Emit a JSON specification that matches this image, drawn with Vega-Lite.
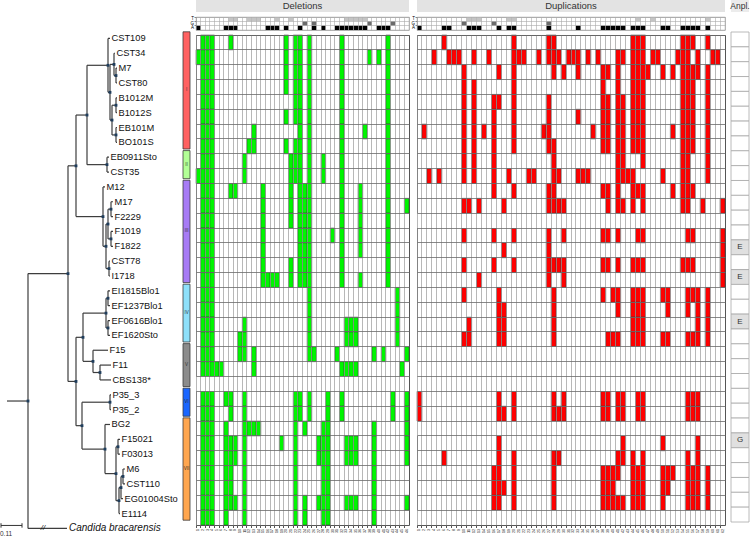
{
"$schema":"https://vega.github.io/schema/vega-lite/v6.json",
"padding":0,
"background":"white",
"config":{"view":{"stroke":null},"font":"Liberation Sans","axis":{"title":null}},
"datasets":{
"seg":[
{"x":108,"x2":110,"y":1,"y2":1},{"x":114,"x2":115,"y":2,"y2":2},{"x":116,"x2":117,"y":3,"y2":3},{"x":116,"x2":117,"y":4,"y2":4},{"x":116,"x2":117,"y":5,"y2":5},{"x":116,"x2":117,"y":6,"y2":6},{"x":116,"x2":117,"y":7,"y2":7},{"x":116,"x2":117,"y":8,"y2":8},{"x":107,"x2":109,"y":9,"y2":9},{"x":107,"x2":109,"y":10,"y2":10},{"x":103,"x2":105,"y":11,"y2":11},{"x":111,"x2":113,"y":12,"y2":12},{"x":111,"x2":113,"y":13,"y2":13},{"x":111,"x2":113,"y":14,"y2":14},{"x":111,"x2":113,"y":15,"y2":15},{"x":109,"x2":110,"y":16,"y2":16},{"x":109,"x2":110,"y":17,"y2":17},{"x":108,"x2":110,"y":18,"y2":18},{"x":108,"x2":110,"y":19,"y2":19},{"x":108,"x2":110,"y":20,"y2":20},{"x":108,"x2":110,"y":21,"y2":21},{"x":93,"x2":108,"y":22,"y2":22},{"x":100,"x2":111,"y":23,"y2":23},{"x":100,"x2":111,"y":24,"y2":24},{"x":110,"x2":111,"y":25,"y2":25},{"x":110,"x2":111,"y":26,"y2":26},{"x":105,"x2":110,"y":27,"y2":27},{"x":118,"x2":120,"y":28,"y2":28},{"x":118,"x2":120,"y":29,"y2":29},{"x":123,"x2":125,"y":30,"y2":30},{"x":123,"x2":125,"y":31,"y2":31},{"x":121,"x2":123,"y":32,"y2":32},{"x":119,"x2":120,"y":33,"y2":33},{"x":28,"x2":67,"y":34,"y2":34},
{"x":114,"x2":116,"y":3.5,"y2":3.5},{"x":110,"x2":114,"y":2.75,"y2":2.75},{"x":112,"x2":116,"y":5.5,"y2":5.5},{"x":112,"x2":116,"y":7.5,"y2":7.5},{"x":110,"x2":112,"y":6.5,"y2":6.5},{"x":108,"x2":110,"y":4.63,"y2":4.63},{"x":87,"x2":108,"y":2.81,"y2":2.81},{"x":87,"x2":107,"y":9.5,"y2":9.5},{"x":76,"x2":87,"y":6.16,"y2":6.16},{"x":108,"x2":111,"y":12.5,"y2":12.5},{"x":108,"x2":111,"y":14.5,"y2":14.5},{"x":106,"x2":108,"y":13.5,"y2":13.5},{"x":106,"x2":109,"y":16.5,"y2":16.5},{"x":103,"x2":106,"y":15,"y2":15},{"x":76,"x2":103,"y":13,"y2":13},{"x":68,"x2":76,"y":9.58,"y2":9.58},{"x":106,"x2":108,"y":18.5,"y2":18.5},{"x":106,"x2":108,"y":20.5,"y2":20.5},{"x":83,"x2":106,"y":19.5,"y2":19.5},{"x":93,"x2":100,"y":23.5,"y2":23.5},{"x":83,"x2":93,"y":22.75,"y2":22.75},{"x":76,"x2":83,"y":21.13,"y2":21.13},{"x":82,"x2":110,"y":25.5,"y2":25.5},{"x":116,"x2":118,"y":28.5,"y2":28.5},{"x":121,"x2":123,"y":30.5,"y2":30.5},{"x":119,"x2":121,"y":31.25,"y2":31.25},{"x":116,"x2":119,"y":32.13,"y2":32.13},{"x":105,"x2":116,"y":30.31,"y2":30.31},{"x":82,"x2":105,"y":28.66,"y2":28.66},{"x":76,"x2":82,"y":27.08,"y2":27.08},{"x":68,"x2":76,"y":24.1,"y2":24.1},{"x":28,"x2":68,"y":16.84,"y2":16.84},{"x":7,"x2":28,"y":25.42,"y2":25.42},
{"x":116,"x2":116,"y":3,"y2":4},{"x":114,"x2":114,"y":2,"y2":3.5},{"x":116,"x2":116,"y":5,"y2":6},{"x":116,"x2":116,"y":7,"y2":8},{"x":112,"x2":112,"y":5.5,"y2":7.5},{"x":110,"x2":110,"y":2.75,"y2":6.5},{"x":108,"x2":108,"y":1,"y2":4.63},{"x":107,"x2":107,"y":9,"y2":10},{"x":87,"x2":87,"y":2.81,"y2":9.5},{"x":111,"x2":111,"y":12,"y2":13},{"x":111,"x2":111,"y":14,"y2":15},{"x":108,"x2":108,"y":12.5,"y2":14.5},{"x":109,"x2":109,"y":16,"y2":17},{"x":106,"x2":106,"y":13.5,"y2":16.5},{"x":103,"x2":103,"y":11,"y2":15},{"x":76,"x2":76,"y":6.16,"y2":13},{"x":108,"x2":108,"y":18,"y2":19},{"x":108,"x2":108,"y":20,"y2":21},{"x":106,"x2":106,"y":18.5,"y2":20.5},{"x":100,"x2":100,"y":23,"y2":24},{"x":93,"x2":93,"y":22,"y2":23.5},{"x":83,"x2":83,"y":19.5,"y2":22.75},{"x":110,"x2":110,"y":25,"y2":26},{"x":118,"x2":118,"y":28,"y2":29},{"x":123,"x2":123,"y":30,"y2":31},{"x":121,"x2":121,"y":30.5,"y2":32},{"x":119,"x2":119,"y":31.25,"y2":33},{"x":116,"x2":116,"y":28.5,"y2":32.13},{"x":105,"x2":105,"y":27,"y2":30.31},{"x":82,"x2":82,"y":25.5,"y2":28.66},{"x":76,"x2":76,"y":21.13,"y2":27.08},{"x":68,"x2":68,"y":9.58,"y2":24.1},{"x":28,"x2":28,"y":16.84,"y2":34}
],
"node":[{"x":116,"y":3.5},{"x":114,"y":2.75},{"x":116,"y":5.5},{"x":116,"y":7.5},{"x":112,"y":6.5},{"x":110,"y":4.63},{"x":108,"y":2.81},{"x":107,"y":9.5},{"x":87,"y":6.16},{"x":111,"y":12.5},{"x":111,"y":14.5},{"x":108,"y":13.5},{"x":109,"y":16.5},{"x":106,"y":15},{"x":103,"y":13},{"x":76,"y":9.58},{"x":108,"y":18.5},{"x":108,"y":20.5},{"x":106,"y":19.5},{"x":100,"y":23.5},{"x":93,"y":22.75},{"x":83,"y":21.13},{"x":110,"y":25.5},{"x":118,"y":28.5},{"x":123,"y":30.5},{"x":121,"y":31.25},{"x":119,"y":32.13},{"x":116,"y":30.31},{"x":105,"y":28.66},{"x":82,"y":27.08},{"x":76,"y":24.1},{"x":68,"y":16.84},{"x":28,"y":25.42}],
"leaf":[{"n":"CST109","x":110,"y":1},{"n":"CST34","x":115,"y":2},{"n":"M7","x":117,"y":3},{"n":"CST80","x":117,"y":4},{"n":"B1012M","x":117,"y":5},{"n":"B1012S","x":117,"y":6},{"n":"EB101M","x":117,"y":7},{"n":"BO101S","x":117,"y":8},{"n":"EB0911Sto","x":109,"y":9},{"n":"CST35","x":109,"y":10},{"n":"M12","x":105,"y":11},{"n":"M17","x":113,"y":12},{"n":"F2229","x":113,"y":13},{"n":"F1019","x":113,"y":14},{"n":"F1822","x":113,"y":15},{"n":"CST78","x":110,"y":16},{"n":"I1718","x":110,"y":17},{"n":"EI1815Blo1","x":110,"y":18},{"n":"EF1237Blo1","x":110,"y":19},{"n":"EF0616Blo1","x":110,"y":20},{"n":"EF1620Sto","x":110,"y":21},{"n":"F15","x":108,"y":22},{"n":"F11","x":111,"y":23},{"n":"CBS138*","x":111,"y":24},{"n":"P35_3","x":111,"y":25},{"n":"P35_2","x":111,"y":26},{"n":"BG2","x":110,"y":27},{"n":"F15021","x":120,"y":28},{"n":"F03013","x":120,"y":29},{"n":"M6","x":125,"y":30},{"n":"CST110","x":125,"y":31},{"n":"EG01004Sto","x":123,"y":32},{"n":"E1114","x":120,"y":33}],
"bar":[{"x":1,"x2":22,"y":33.8,"y2":33.8},{"x":1,"x2":1,"y":33.65,"y2":33.95},{"x":22,"x2":22,"y":33.65,"y2":33.95}],
"clade":[{"k":"I","top":0.5,"bot":8.5,"mid":4.5},{"k":"II","top":8.5,"bot":10.5,"mid":9.5},{"k":"III","top":10.5,"bot":17.5,"mid":14},{"k":"IV","top":17.5,"bot":21.5,"mid":19.5},{"k":"V","top":21.5,"bot":24.5,"mid":23},{"k":"VI","top":24.5,"bot":26.5,"mid":25.5},{"k":"VII","top":26.5,"bot":33.5,"mid":30}],
"delHead":[{"t":"T","c":[8,9,12,13,14,18,21,33,34,35,36,37]},{"t":"G","c":[24,26,38,43]},{"t":"A","c":[1,7,8,9,16,17,18,20,23,26,28,31,32,33,34,35,36,37,40,41,42]}],
"dupHead":[{"t":"T","c":[11,12,13,19,20,45,48,59]},{"t":"G","c":[10,16,27]},{"t":"A","c":[1,6,7,11,12,13,17,19,20,27,33,38,39,40,41,42,44,45,46,50,51,54,55,56,57,59]}],
"del":[
{"r":1,"c":[2,3,4,8,20,22,23,25,32,42]},
{"r":2,"c":[1,2,3,4,20,22,23,25,32,38,40,42]},
{"r":3,"c":[2,3,4,20,22,23,25,32,42]},
{"r":4,"c":[2,3,4,20,22,23,25,32,42]},
{"r":5,"c":[2,3,4,22,23,25,32,42]},
{"r":6,"c":[2,3,4,20,22,23,25,32,42]},
{"r":7,"c":[2,3,4,13,23,25,32,37,42]},
{"r":8,"c":[2,3,4,12,13,20,22,23,25,32,42]},
{"r":9,"c":[2,3,4,11,21,22,23,25,28,32,42]},
{"r":10,"c":[1,2,3,4,11,21,22,23,25,28,32,42]},
{"r":11,"c":[2,3,4,8,9,15,21,23,24,25,32,36,42]},
{"r":12,"c":[2,3,4,15,21,23,24,25,32,36,42,46]},
{"r":13,"c":[2,3,4,15,21,23,24,25,32,36,42]},
{"r":14,"c":[2,3,4,15,23,24,25,30,32,36,42]},
{"r":15,"c":[2,3,4,15,23,24,25,32,36,42]},
{"r":16,"c":[2,3,4,15,21,23,24,25,32,42]},
{"r":17,"c":[2,3,4,15,16,17,18,21,23,24,25,32,36,42]},
{"r":18,"c":[2,3,4,25,44]},
{"r":19,"c":[2,3,4,25,44]},
{"r":20,"c":[2,3,4,11,25,33,34,35,44]},
{"r":21,"c":[2,3,4,10,11,25,33,34,35,44]},
{"r":22,"c":[2,3,4,10,11,13,25,26,31,39,41,46]},
{"r":23,"c":[2,3,4,5,6,13,32,33,34,35,45]},
{"r":25,"c":[2,3,4,7,8,11,22,23,25,29,32,43,46]},
{"r":26,"c":[2,3,4,8,11,22,23,25,29,32,43,46]},
{"r":27,"c":[2,3,4,7,11,12,13,14,22,24,28,29,39,46]},
{"r":28,"c":[2,3,4,7,8,9,11,19,22,27,28,29,33,34,35,39,46]},
{"r":29,"c":[2,3,4,7,8,9,11,22,27,28,29,33,34,35,39,46]},
{"r":30,"c":[2,3,4,7,8,11,22,28,29,39]},
{"r":31,"c":[2,3,4,7,8,11,22,28,29,39]},
{"r":32,"c":[2,3,4,7,8,9,11,22,24,27,28,29,33,34,35,39,46]},
{"r":33,"c":[2,3,4,7,11,22,24,28,29,39]}
],
"dup":[
{"r":1,"c":[6,20,27,28,44,45,46,54,55,56,59]},
{"r":2,"c":[4,7,8,9,12,15,20,21,22,25,27,28,29,31,32,33,35,37,41,42,44,45,46,48,49,53,54,55,57,60,61]},
{"r":3,"c":[10,17,20,28,30,33,38,39,41,44,45,46,47,50,52,54,55,56,57,59]},
{"r":4,"c":[10,12,20,38,41,44,45,46,54,55,56,59]},
{"r":5,"c":[10,12,16,17,20,27,38,39,41,42,44,45,46,54,55,56,59]},
{"r":6,"c":[10,12,16,20,27,33,38,39,41,42,44,45,46,54,55,56,59]},
{"r":7,"c":[2,10,12,14,16,20,26,27,36,38,39,41,42,44,45,46,52,54,55,56,59]},
{"r":8,"c":[10,12,16,20,27,28,38,39,41,42,44,45,46,54,55,56,59]},
{"r":9,"c":[10,12,16,28,41,42,46,54,55,59]},
{"r":10,"c":[3,5,10,12,16,19,23,24,28,29,33,34,35,41,42,43,44,50,54,55,59]},
{"r":11,"c":[16,20,27,28,38,39,41,44,45,46,52,54,55,56]},
{"r":12,"c":[10,11,13,18,27,28,29,30,39,41,42,44,46,54,55,58,62]},
{"r":14,"c":[10,16,20,27,30,38,39,41,45,46,55,56,62]},
{"r":15,"c":[18,27,62]},
{"r":16,"c":[10,16,20,27,28,29,30,38,39,41,44,45,46,54,55,56,62]},
{"r":17,"c":[13,27,30,62]},
{"r":18,"c":[10,17,28,38,40,41,44,45,46,50,51,55,56,57,59]},
{"r":19,"c":[17,18,28,41,44,45,46,51,55,57,59]},
{"r":20,"c":[11,17,18,28,44,45,46,57,59]},
{"r":21,"c":[10,11,17,18,28,39,40,41,44,45,46,50,51,55,56,57,59]},
{"r":25,"c":[1,17,20,28,30,38,39,41,42,45,46,55,56,57]},
{"r":26,"c":[1,17,18,20,28,29,30,38,39,41,42,45,46,55,56,57]},
{"r":28,"c":[17,42,50,57]},
{"r":29,"c":[6,17,20,28,29,41,42,44,46,55,57]},
{"r":30,"c":[16,17,20,28,38,39,40,41,44,45,46,50,51,52,55,56,57,59]},
{"r":31,"c":[16,17,18,20,28,38,39,40,44,45,46,50,51,55,56,57,59]},
{"r":32,"c":[16,17,20,28,38,39,40,41,42,44,45,46,50,55,56,57,59]}
],
"ampl":[{"r":1},{"r":2},{"r":3},{"r":4},{"r":5},{"r":6},{"r":7},{"r":8},{"r":9},{"r":10},{"r":11},{"r":12},{"r":13},{"r":14},{"r":15,"a":"E"},{"r":16},{"r":17,"a":"E"},{"r":18},{"r":19},{"r":20,"a":"E"},{"r":21},{"r":22},{"r":23},{"r":24},{"r":25},{"r":26},{"r":27},{"r":28,"a":"G"},{"r":29},{"r":30},{"r":31},{"r":32},{"r":33}],
"amplTxt":[{"r":15,"a":"E"},{"r":17,"a":"E"},{"r":20,"a":"E"},{"r":28,"a":"G"}]
},
"resolve":{"scale":{"color":"independent"}},
"hconcat":[
{"resolve":{"scale":{"color":"independent"}},"hconcat":[
 {"width":177,"height":536,
  "encoding":{
   "x":{"field":"x","type":"quantitative","scale":{"domain":[0,177],"nice":false,"zero":false},"axis":null},
   "y":{"field":"y","type":"quantitative","scale":{"domain":[-1.588,34.511],"reverse":true,"nice":false,"zero":false},"axis":null}},
  "layer":[
   {"data":{"name":"seg"},"mark":{"type":"rule","color":"#3d3d3d","strokeWidth":1.2},"encoding":{"x2":{"field":"x2"},"y2":{"field":"y2"}}},
   {"data":{"name":"bar"},"mark":{"type":"rule","color":"#333333","strokeWidth":1},"encoding":{"x2":{"field":"x2"},"y2":{"field":"y2"}}},
   {"data":{"name":"node"},"mark":{"type":"square","size":8,"color":"#1f3d5c","opacity":1}},
   {"data":{"name":"leaf"},"mark":{"type":"text","align":"left","baseline":"middle","dx":1.5,"fontSize":9.3,"color":"#111111"},"encoding":{"text":{"field":"n"}}},
   {"data":{"values":[{"n":"Candida bracarensis","x":67,"y":34}]},"mark":{"type":"text","align":"left","baseline":"middle","dx":2,"fontSize":10,"fontStyle":"italic","color":"#111111"},"encoding":{"text":{"field":"n"}}},
   {"data":{"values":[{"n":"//","x":43,"y":34}]},"mark":{"type":"text","baseline":"middle","fontSize":8,"fontStyle":"italic","color":"#111111"},"encoding":{"text":{"field":"n"}}},
   {"data":{"values":[{"n":"0.11","x":0,"y":34.35}]},"mark":{"type":"text","align":"left","baseline":"middle","fontSize":6.5,"color":"#333333"},"encoding":{"text":{"field":"n"}}}
  ]},
 {"width":7,"height":536,"data":{"name":"clade"},
  "layer":[
   {"mark":{"type":"rect","stroke":"#3a3a3a","strokeWidth":0.8,"yOffset":0.8,"y2Offset":-0.8},
    "encoding":{"y":{"field":"top","type":"quantitative","scale":{"domain":[-1.588,34.511],"reverse":true,"nice":false,"zero":false},"axis":null},"y2":{"field":"bot"},
     "color":{"field":"k","type":"nominal","scale":{"domain":["I","II","III","IV","V","VI","VII"],"range":["#ff6161","#b2ff96","#a77bf5","#8ee0fa","#8c8c8c","#1a66ff","#ffa64f"]},"legend":null}}},
   {"mark":{"type":"text","fontSize":4.5,"color":"#333333","baseline":"middle"},
    "encoding":{"y":{"field":"mid","type":"quantitative","scale":{"domain":[-1.588,34.511],"reverse":true,"nice":false,"zero":false},"axis":null},"text":{"field":"k"}}}
  ]}
],"spacing":4},
{"resolve":{"scale":{"color":"independent"}},"hconcat":[
 {"resolve":{"scale":{"color":"independent"}},"vconcat":[
  {"width":213,"height":12,"data":{"values":[{"t":"Deletions"}]},
   "layer":[{"mark":{"type":"rect","color":"#e3e3e3"},"encoding":{}},{"mark":{"type":"text","fontSize":9.5,"color":"#333333","baseline":"middle"},"encoding":{"text":{"field":"t"}}}]},
  {"width":213,"height":13,"data":{"name":"delHead"},"transform":[{"flatten":["c"]}],"view":{"stroke":"#888888","strokeWidth":0.8},
   "mark":{"type":"rect"},
   "encoding":{
    "x":{"field":"c","type":"ordinal","scale":{"domain":[1,2,3,4,5,6,7,8,9,10,11,12,13,14,15,16,17,18,19,20,21,22,23,24,25,26,27,28,29,30,31,32,33,34,35,36,37,38,39,40,41,42,43,44,45,46]},"axis":{"labels":false,"ticks":false,"domain":false,"grid":true,"gridColor":"#aaaaaa","gridWidth":0.6,"bandPosition":0}},
    "y":{"field":"t","type":"ordinal","scale":{"domain":["T","G","A"]},"axis":{"labelFontSize":4.5,"tickSize":2,"labelPadding":0.5,"domain":false,"grid":true,"gridColor":"#aaaaaa","gridWidth":0.6,"bandPosition":0}},
    "color":{"field":"t","type":"nominal","scale":{"domain":["T","G","A"],"range":["#c4c4c4","#6b6b6b","#000000"]},"legend":null}}},
  {"width":213,"height":490,"view":{"stroke":"#555555","strokeWidth":1},
   "encoding":{"y":{"field":"r","type":"ordinal","scale":{"domain":[1,2,3,4,5,6,7,8,9,10,11,12,13,14,15,16,17,18,19,20,21,22,23,24,25,26,27,28,29,30,31,32,33]},"axis":{"labels":false,"ticks":false,"domain":false,"grid":true,"gridColor":"#6a6a6a","gridWidth":0.8,"bandPosition":0}}},
   "layer":[
    {"data":{"name":"del"},"transform":[{"flatten":["c"]}],"mark":{"type":"rect","color":"#00f500","stroke":"#3a3a3a","strokeWidth":0.5},
     "encoding":{"x":{"field":"c","type":"ordinal","scale":{"domain":[1,2,3,4,5,6,7,8,9,10,11,12,13,14,15,16,17,18,19,20,21,22,23,24,25,26,27,28,29,30,31,32,33,34,35,36,37,38,39,40,41,42,43,44,45,46]},"axis":{"orient":"bottom","labelFontSize":3.5,"labelAngle":-90,"labelPadding":1,"tickSize":2.5,"tickColor":"#555555","domain":false,"grid":true,"gridColor":"#999999","gridWidth":0.7,"bandPosition":0}}}},
    {"data":{"values":[{"r":24}]},"mark":{"type":"rect","color":"#ffffff"}}
   ]}
 ],"spacing":3},
 {"resolve":{"scale":{"color":"independent"}},"hconcat":[
  {"resolve":{"scale":{"color":"independent"}},"vconcat":[
   {"width":308,"height":12,"data":{"values":[{"t":"Duplications"}]},
    "layer":[{"mark":{"type":"rect","color":"#e3e3e3"},"encoding":{}},{"mark":{"type":"text","fontSize":9.5,"color":"#333333","baseline":"middle"},"encoding":{"text":{"field":"t"}}}]},
   {"width":308,"height":13,"data":{"name":"dupHead"},"transform":[{"flatten":["c"]}],"view":{"stroke":"#888888","strokeWidth":0.8},
    "mark":{"type":"rect"},
    "encoding":{
     "x":{"field":"c","type":"ordinal","scale":{"domain":[1,2,3,4,5,6,7,8,9,10,11,12,13,14,15,16,17,18,19,20,21,22,23,24,25,26,27,28,29,30,31,32,33,34,35,36,37,38,39,40,41,42,43,44,45,46,47,48,49,50,51,52,53,54,55,56,57,58,59,60,61,62]},"axis":{"labels":false,"ticks":false,"domain":false,"grid":true,"gridColor":"#aaaaaa","gridWidth":0.6,"bandPosition":0}},
     "y":{"field":"t","type":"ordinal","scale":{"domain":["T","G","A"]},"axis":{"labelFontSize":4.5,"tickSize":2,"labelPadding":0.5,"domain":false,"grid":true,"gridColor":"#aaaaaa","gridWidth":0.6,"bandPosition":0}},
     "color":{"field":"t","type":"nominal","scale":{"domain":["T","G","A"],"range":["#c4c4c4","#6b6b6b","#000000"]},"legend":null}}},
   {"width":308,"height":490,"view":{"stroke":"#555555","strokeWidth":1},
    "encoding":{"y":{"field":"r","type":"ordinal","scale":{"domain":[1,2,3,4,5,6,7,8,9,10,11,12,13,14,15,16,17,18,19,20,21,22,23,24,25,26,27,28,29,30,31,32,33]},"axis":{"labels":false,"ticks":false,"domain":false,"grid":true,"gridColor":"#6a6a6a","gridWidth":0.8,"bandPosition":0}}},
    "layer":[
     {"data":{"name":"dup"},"transform":[{"flatten":["c"]}],"mark":{"type":"rect","color":"#ff0000","stroke":"#3a3a3a","strokeWidth":0.5},
      "encoding":{"x":{"field":"c","type":"ordinal","scale":{"domain":[1,2,3,4,5,6,7,8,9,10,11,12,13,14,15,16,17,18,19,20,21,22,23,24,25,26,27,28,29,30,31,32,33,34,35,36,37,38,39,40,41,42,43,44,45,46,47,48,49,50,51,52,53,54,55,56,57,58,59,60,61,62]},"axis":{"orient":"bottom","labelFontSize":3.5,"labelAngle":-90,"labelPadding":1,"tickSize":2.5,"tickColor":"#555555","domain":false,"grid":true,"gridColor":"#999999","gridWidth":0.7,"bandPosition":0}}}},
     {"data":{"values":[{"r":13},{"r":22},{"r":23},{"r":24},{"r":27},{"r":33}]},"mark":{"type":"rect","color":"#ffffff"}}
    ]}
  ],"spacing":3},
  {"vconcat":[
   {"width":18,"height":12,"data":{"values":[{"t":"Anpl."}]},
    "layer":[{"mark":{"type":"rect","color":"#ececec"},"encoding":{}},{"mark":{"type":"text","fontSize":8.5,"color":"#333333","baseline":"middle"},"encoding":{"text":{"field":"t"}}}]},
   {"width":18,"height":13,"data":{"values":[{"t":" "}]},"mark":{"type":"text"},"encoding":{"text":{"field":"t"}}},
   {"width":18,"height":490,
    "encoding":{"y":{"field":"r","type":"ordinal","scale":{"domain":[1,2,3,4,5,6,7,8,9,10,11,12,13,14,15,16,17,18,19,20,21,22,23,24,25,26,27,28,29,30,31,32,33]},"axis":null}},
    "layer":[
     {"data":{"name":"ampl"},"mark":{"type":"rect","stroke":"#a8a8a8","strokeWidth":0.8},"encoding":{"color":{"condition":{"test":"datum.a","value":"#e0e0e0"},"value":"#ffffff"}}},
     {"data":{"name":"amplTxt"},"mark":{"type":"text","fontSize":8,"color":"#333333","baseline":"middle"},"encoding":{"text":{"field":"a"}}}
    ]}
  ],"spacing":3}
 ],"spacing":4}
],"spacing":0}
],
"spacing":-2
}
